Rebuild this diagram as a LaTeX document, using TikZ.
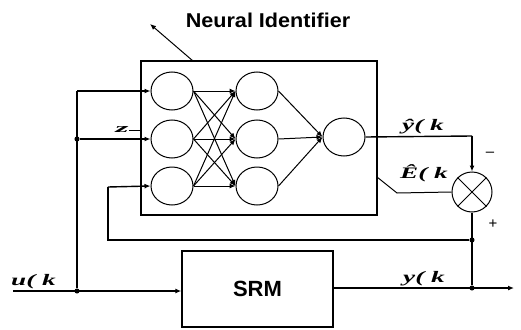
\documentclass[tikz,border=0pt]{standalone}
\usepackage{fontspec}
\usepackage{graphicx}
\setmainfont{Liberation Serif}
\newfontfamily\headfont{Liberation Sans}
\usetikzlibrary{arrows.meta,shapes.geometric}

\tikzset{
  neuron/.style={draw, line width=1pt, ellipse, minimum width=42pt, minimum height=38pt, inner sep=0pt},
  wire/.style={line width=1pt},
  sig/.style={line width=1.4pt},
  tip/.style={-{Latex[length=6pt,width=5pt]}},
  sigtext/.style={font=\fontsize{16}{16}\selectfont\bfseries\itshape, inner sep=0pt},
  junction/.style={circle, fill, inner sep=1.8pt},
}
% bold italic signal names, set wide
\newcommand{\signame}[1]{\scalebox{1.7}[1]{#1}}

\begin{document}
\begin{tikzpicture}[x=1pt,y=-1pt]
\useasboundingbox (0,0) rectangle (521,329);

% identifier block and its title
\node[draw, line width=1.4pt, minimum width=236pt, minimum height=154pt, inner sep=0pt] (nn) at (259,138) {};
\node[font=\headfont\fontsize{20}{20}\selectfont\bfseries] (title) at (268,20) {\scalebox{1.08}[1]{Neural Identifier}};
\coordinate (ptr) at (193,61);
\coordinate (ptrend) at (150,24);
\draw[wire, tip] (ptr) -- (ptrend);

% neurons
\node[neuron] (a1) at (172,91) {};
\node[neuron] (a2) at (172,139) {};
\node[neuron] (a3) at (172,186) {};
\node[neuron] (b1) at (257,91) {};
\node[neuron] (b2) at (257,139) {};
\node[neuron] (b3) at (257,186) {};
\node[neuron] (o) at (344,137) {};

\foreach \i in {1,2,3}{
  \foreach \j in {1,2,3}{
    \draw[wire, tip] (a\i.east) -- (b\j.west);
  }
  \draw[wire, tip] (b\i.east) -- (o.west);
}

% SRM plant
\node[draw, line width=1.4pt, minimum width=151pt, minimum height=76pt, inner sep=0pt,
      font=\headfont\fontsize{22}{22}\selectfont\bfseries] (srm) at (257.5,289) {SRM};

% summing junction
\node[draw, circle, line width=1pt, minimum size=40pt, inner sep=0pt] (sum) at (472,192) {};
\draw[wire] (sum.45) -- (sum.225) (sum.135) -- (sum.315);

% input u(k)
\coordinate (uin) at (13,291);
\node[junction] (ju) at (77,291) {};
\node[junction] (jz) at (77,139) {};
\draw[sig, tip] (uin) -- (srm.west |- uin);
\draw[sig] (ju) -- (77,91);
\draw[sig, tip] (77,91) -- (a1.west);
\draw[sig, tip] (jz) -- (a2.west);
\node[sigtext, anchor=south west] (ulab) at (11,289) {\signame{u( k}};

% delay label
\node[font=\fontsize{13}{13}\selectfont\bfseries\itshape, inner sep=0pt] (zlab) at (122,130) {\scalebox{2.6}[1]{z}};
\coordinate (zend) at (141,130);
\draw[wire] (zlab.east) -- (zend);

% estimated output
\coordinate (yc) at (472,136);
\draw[sig] (o.east) -- (yc);
\draw[sig, tip] (yc) -- (sum.north);
\node[sigtext, anchor=south west] (yhlab) at (402,134) {\signame{ŷ( k}};
\node[font=\headfont\fontsize{15}{15}\selectfont] (minus) at (490,154) {–};

% estimated error
\coordinate (es) at (377,177);
\coordinate (eb) at (397,193);
\draw[wire] (es) -- (eb) -- (sum.west);
\node[sigtext, anchor=south west] (ehlab) at (400,182) {\signame{Ê( k}};

% plant output and feedback
\node[junction] (jf) at (472,240) {};
\node[junction] (jy) at (472,288) {};
\coordinate (yout) at (514,288);
\draw[sig, tip] (srm.east |- yout) -- (yout);
\draw[sig] (sum.south) -- (jy);
\draw[sig] (jf) -- (108,240) -- (108,187);
\draw[sig, tip] (108,187) -- (a3.west);
\node[sigtext, anchor=south west] (ylab) at (403,286) {\signame{y( k}};
\node[font=\headfont\fontsize{15}{15}\selectfont] (plus) at (493,224) {+};
\end{tikzpicture}
\end{document}
